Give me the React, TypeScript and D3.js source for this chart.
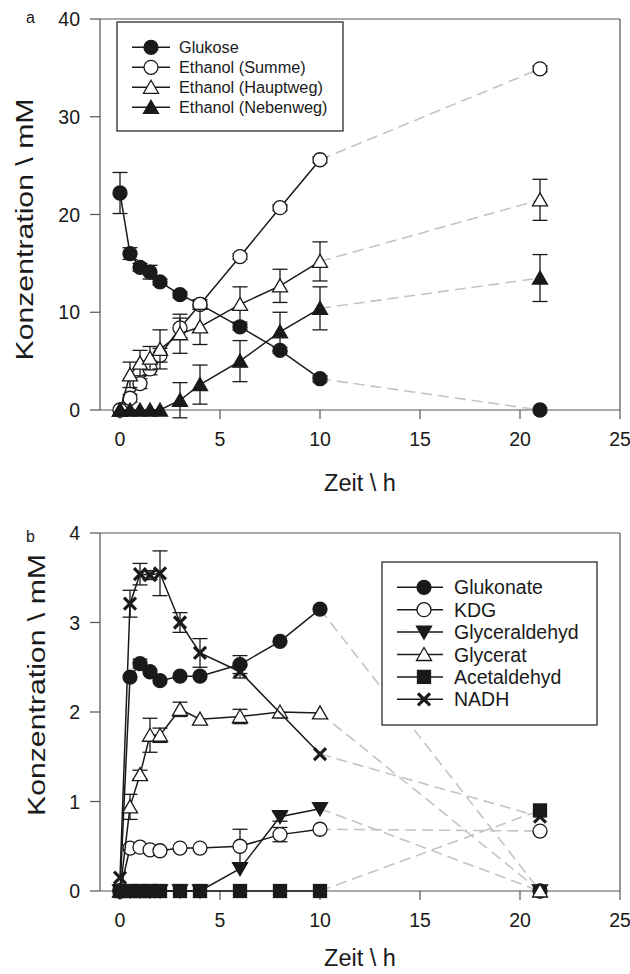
import React from "react";
import * as d3 from "d3";

// ---------- data ----------
const timeA = [0, 0.5, 1, 1.5, 2, 3, 4, 6, 8, 10, 21];
const glukose = [22.2, 16.0, 14.6, 14.1, 13.1, 11.8, 10.8, 8.5, 6.1, 3.2, 0];
const glukoseErr = [2.1, 0.6, 0.4, 0.7, 0.3, 0.3, 0.3, 0.3, 0.3, 0.3, 0];
const ethanolSumme = [0, 1.2, 2.7, 4.2, 5.6, 8.4, 10.8, 15.7, 20.7, 25.6, 34.9];
const ethanolSummeErr = [0, 0.4, 0.5, 0.6, 0.7, 1.0, 0.5, 0.3, 0.3, 0.3, 0.3];
const ethanolHaupt = [0, 3.6, 4.8, 5.3, 6.2, 7.8, 8.5, 10.8, 12.7, 15.2, 21.5];
const ethanolHauptErr = [0, 1.3, 1.3, 1.2, 2.0, 2.0, 1.8, 1.8, 1.7, 2.0, 2.1];
const ethanolNeben = [0, 0, 0, 0, 0, 1.0, 2.6, 5.0, 8.0, 10.4, 13.5];
const ethanolNebenErr = [0, 0, 0, 0, 0, 1.8, 2.0, 2.1, 2.0, 2.2, 2.4];

const timeB = [0, 0.5, 1, 1.5, 2, 3, 4, 6, 8, 10, 21];
const glukonate = [0, 2.39, 2.54, 2.45, 2.35, 2.4, 2.4, 2.53, 2.79, 3.15, 0];
const glukonateErr = [0, 0, 0.05, 0, 0, 0, 0, 0.1, 0, 0, 0];
const kdg = [0, 0.48, 0.49, 0.46, 0.45, 0.48, 0.48, 0.5, 0.63, 0.69, 0.67];
const kdgErr = [0, 0, 0, 0, 0, 0, 0, 0.19, 0.08, 0, 0];
const glyceraldehyd = [0, 0, 0, 0, 0, 0, 0, 0.25, 0.83, 0.92, 0];
const glyceraldehydErr = [0, 0, 0, 0, 0, 0, 0, 0, 0.05, 0, 0];
const glycerat = [0, 0.94, 1.3, 1.74, 1.74, 2.03, 1.92, 1.95, 2.0, 1.99, 0];
const glyceratErr = [0, 0.14, 0.05, 0.19, 0.08, 0.08, 0, 0.08, 0, 0, 0];
const acetaldehyd = [0, 0, 0, 0, 0, 0, 0, 0, 0, 0, 0.9];
const acetaldehydErr = [0, 0, 0, 0, 0, 0, 0, 0, 0, 0, 0];
const nadh: (number | null)[] = [0.15, 3.21, 3.54, 3.53, 3.55, 3.0, 2.66, 2.45, null, 1.53, 0.83];
const nadhErr = [0, 0.15, 0.12, 0.05, 0.25, 0.11, 0.16, 0.07, 0, 0, 0];

const xTicks = [0, 5, 10, 15, 20, 25];
const yTicksA = [0, 10, 20, 30, 40];
const yTicksB = [0, 1, 2, 3, 4];

const labelsA = ["Glukose", "Ethanol (Summe)", "Ethanol (Hauptweg)", "Ethanol (Nebenweg)"];
const labelsB = ["Glukonate", "KDG", "Glyceraldehyd", "Glycerat", "Acetaldehyd", "NADH"];

type Shape = "circleFilled" | "circleOpen" | "triUpOpen" | "triUpFilled" | "triDownFilled" | "square" | "cross";

interface Series {
  label: string;
  values: (number | null)[];
  err: number[];
  shape: Shape;
}

const seriesA: Series[] = [
  { label: labelsA[0], values: glukose, err: glukoseErr, shape: "circleFilled" },
  { label: labelsA[1], values: ethanolSumme, err: ethanolSummeErr, shape: "circleOpen" },
  { label: labelsA[2], values: ethanolHaupt, err: ethanolHauptErr, shape: "triUpOpen" },
  { label: labelsA[3], values: ethanolNeben, err: ethanolNebenErr, shape: "triUpFilled" },
];

const seriesB: Series[] = [
  { label: labelsB[0], values: glukonate, err: glukonateErr, shape: "circleFilled" },
  { label: labelsB[1], values: kdg, err: kdgErr, shape: "circleOpen" },
  { label: labelsB[2], values: glyceraldehyd, err: glyceraldehydErr, shape: "triDownFilled" },
  { label: labelsB[3], values: glycerat, err: glyceratErr, shape: "triUpOpen" },
  { label: labelsB[4], values: acetaldehyd, err: acetaldehydErr, shape: "square" },
  { label: labelsB[5], values: nadh, err: nadhErr, shape: "cross" },
];

const FONT = "'Liberation Sans', Arial, Helvetica, sans-serif";
const INK = "#1a1a1a";
const AXIS = "#555";

function Marker({ shape, x, y }: { shape: Shape; x: number; y: number }) {
  const sw = 1.3;
  switch (shape) {
    case "circleFilled":
      return <circle cx={x} cy={y} r={7} fill={INK} stroke={INK} strokeWidth={sw} />;
    case "circleOpen":
      return <circle cx={x} cy={y} r={7} fill="#fff" stroke={INK} strokeWidth={sw} />;
    case "triUpOpen":
    case "triUpFilled": {
      const p = `M${x},${y - 7} L${x + 7.5},${y + 6} L${x - 7.5},${y + 6} Z`;
      return <path d={p} fill={shape === "triUpOpen" ? "#fff" : INK} stroke={INK} strokeWidth={sw} strokeLinejoin="miter" />;
    }
    case "triDownFilled": {
      const p = `M${x},${y + 7} L${x + 7.5},${y - 6} L${x - 7.5},${y - 6} Z`;
      return <path d={p} fill={INK} stroke={INK} strokeWidth={sw} />;
    }
    case "square":
      return <rect x={x - 6.5} y={y - 6.5} width={13} height={13} fill={INK} stroke={INK} strokeWidth={sw} />;
    case "cross":
      return (
        <g stroke={INK} strokeWidth={3.2} strokeLinecap="butt">
          <line x1={x - 6} y1={y - 6} x2={x + 6} y2={y + 6} />
          <line x1={x - 6} y1={y + 6} x2={x + 6} y2={y - 6} />
        </g>
      );
  }
  return null;
}

interface PanelProps {
  letter: string;
  letterY: number;
  times: number[];
  series: Series[];
  yDomain: [number, number];
  yRange: [number, number];
  yTicks: number[];
  yLabelX: number;
  yLabelY: number;
  xTitleY: number;
  legend: { x0: number; x1: number; y0: number; y1: number; rowY: number; rowStep: number; lx0: number; lx1: number; mx: number; tx: number; fs: number };
}

function Panel(p: PanelProps) {
  const x = d3.scaleLinear().domain([-1, 25]).range([100, 620]);
  const y = d3.scaleLinear().domain(p.yDomain).range(p.yRange);
  const [yBottom, yTop] = p.yRange;
  const lastSolid = p.times.indexOf(10);

  const solidLine = d3
    .line<[number, number | null]>()
    .defined((d) => d[1] !== null)
    .x((d) => x(d[0]))
    .y((d) => y(d[1] as number));

  return (
    <g>
      <text x={26} y={p.letterY} fontSize={16} fill={INK} fontFamily={FONT}>
        {p.letter}
      </text>

      {/* frame */}
      <line x1={x(-1)} x2={x(25)} y1={yTop} y2={yTop} stroke={AXIS} strokeWidth={1.2} />
      <line x1={x(25)} x2={x(25)} y1={yTop} y2={yBottom} stroke={AXIS} strokeWidth={1.2} />
      <line x1={x(-1)} x2={x(-1)} y1={yTop} y2={yBottom} stroke={AXIS} strokeWidth={1.2} />
      <line x1={x(-1)} x2={x(25)} y1={yBottom} y2={yBottom} stroke={AXIS} strokeWidth={1.2} />

      {/* y ticks */}
      {p.yTicks.map((t) => (
        <g key={"y" + t}>
          <line x1={90} x2={x(-1)} y1={y(t)} y2={y(t)} stroke={AXIS} strokeWidth={1.2} />
          <text x={80} y={y(t) + 7} textAnchor="end" fontSize={19.5} fill={INK} fontFamily={FONT}>
            {t}
          </text>
        </g>
      ))}
      {/* x ticks */}
      {xTicks.map((t) => (
        <g key={"x" + t}>
          <line x1={x(t)} x2={x(t)} y1={yBottom} y2={yBottom + 9} stroke={AXIS} strokeWidth={1.2} />
          <text x={x(t)} y={yBottom + 36} textAnchor="middle" fontSize={19.5} fill={INK} fontFamily={FONT}>
            {t}
          </text>
        </g>
      ))}

      {/* axis titles */}
      <text x={360} y={p.xTitleY} textAnchor="middle" fontSize={23.5} fill={INK} fontFamily={FONT}>
        Zeit \ h
      </text>
      <text
        transform={`translate(${p.yLabelX},${p.yLabelY}) rotate(-90)`}
        textAnchor="middle"
        fontSize={23.5}
        fill={INK}
        fontFamily={FONT}
        textLength={262}
        lengthAdjust="spacingAndGlyphs"
      >
        Konzentration \ mM
      </text>

      {/* dashed extensions */}
      {p.series.map((s, i) => {
        const a = s.values[lastSolid];
        const b = s.values[p.times.length - 1];
        if (a === null || b === null) return null;
        return (
          <line
            key={"d" + i}
            x1={x(p.times[lastSolid])}
            y1={y(a)}
            x2={x(p.times[p.times.length - 1])}
            y2={y(b)}
            stroke="#c4c4c4"
            strokeWidth={1.6}
            strokeDasharray="11 6"
          />
        );
      })}

      {/* series */}
      {p.series.map((s, i) => {
        const pts: [number, number | null][] = p.times.slice(0, lastSolid + 1).map((t, j) => [t, s.values[j]]);
        const valid = pts.filter((d) => d[1] !== null) as [number, number][];
        return (
          <g key={"s" + i}>
            <path d={solidLine(valid) || ""} fill="none" stroke={INK} strokeWidth={1.5} />
            {p.times.map((t, j) => {
              const v = s.values[j];
              const e = s.err[j];
              if (v === null || !e) return null;
              const cx = x(t);
              return (
                <g key={"e" + j} stroke={INK} strokeWidth={1.3}>
                  <line x1={cx} x2={cx} y1={y(v - e)} y2={y(v + e)} />
                  <line x1={cx - 7.5} x2={cx + 7.5} y1={y(v + e)} y2={y(v + e)} />
                  <line x1={cx - 7.5} x2={cx + 7.5} y1={y(v - e)} y2={y(v - e)} />
                </g>
              );
            })}
            {p.times.map((t, j) => {
              const v = s.values[j];
              if (v === null) return null;
              return <Marker key={"m" + j} shape={s.shape} x={x(t)} y={y(v)} />;
            })}
          </g>
        );
      })}

      {/* legend */}
      <rect
        x={p.legend.x0}
        y={p.legend.y0}
        width={p.legend.x1 - p.legend.x0}
        height={p.legend.y1 - p.legend.y0}
        fill="#fff"
        stroke={INK}
        strokeWidth={1.2}
      />
      {p.series.map((s, i) => {
        const ry = p.legend.rowY + i * p.legend.rowStep;
        return (
          <g key={"l" + i}>
            <line x1={p.legend.lx0} x2={p.legend.lx1} y1={ry} y2={ry} stroke={INK} strokeWidth={1.5} />
            <Marker shape={s.shape} x={p.legend.mx} y={ry} />
            <text x={p.legend.tx} y={ry + p.legend.fs * 0.36} fontSize={p.legend.fs} fill={INK} fontFamily={FONT}>
              {s.label}
            </text>
          </g>
        );
      })}
    </g>
  );
}

export default function App() {
  return (
    <svg
      width={630}
      height={974}
      viewBox="0 0 630 974"
      style={{ position: "absolute", left: 0, top: 0, background: "#fff" }}
    >
      <Panel
        letter="a"
        letterY={23}
        times={timeA}
        series={seriesA}
        yDomain={[0, 40]}
        yRange={[410, 19]}
        yTicks={yTicksA}
        yLabelX={33}
        yLabelY={229.5}
        xTitleY={490.5}
        legend={{ x0: 117, x1: 343, y0: 22, y1: 131, rowY: 47.3, rowStep: 20, lx0: 132, lx1: 170, mx: 151, tx: 179, fs: 16.3 }}
      />
      <Panel
        letter="b"
        letterY={542}
        times={timeB}
        series={seriesB}
        yDomain={[0, 4]}
        yRange={[891, 533]}
        yTicks={yTicksB}
        yLabelX={45}
        yLabelY={685}
        xTitleY={966}
        legend={{ x0: 382, x1: 597, y0: 562, y1: 725, rowY: 587.3, rowStep: 22.4, lx0: 397, lx1: 443, mx: 424, tx: 454, fs: 19.5 }}
      />
    </svg>
  );
}
